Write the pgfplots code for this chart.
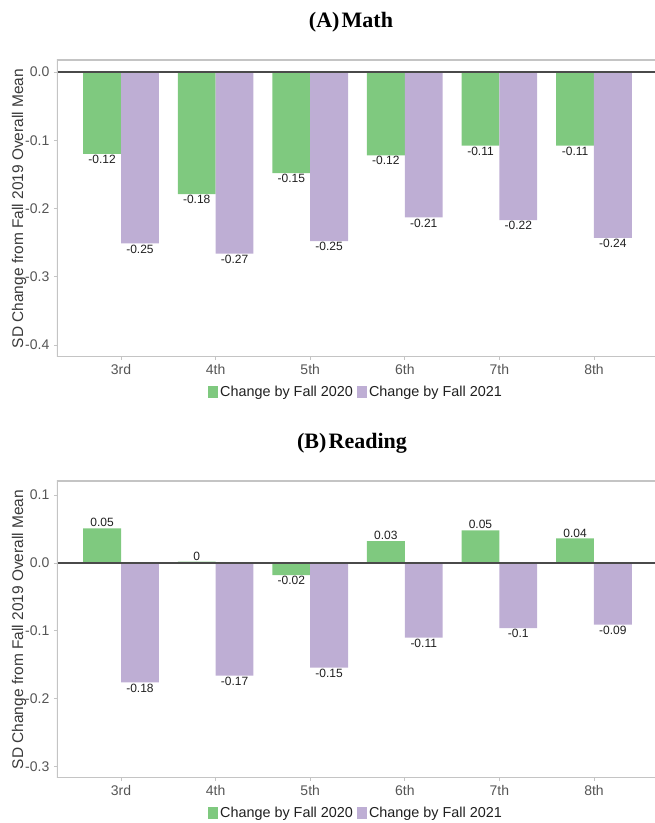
\documentclass[border=0pt]{standalone}
\usepackage{pgfplots}
\pgfplotsset{compat=1.18}
\usepackage{fontspec}
\setmainfont{Liberation Sans}
\newfontfamily\titlefont{Liberation Serif}
\definecolor{cg}{HTML}{7FC97F}
\definecolor{cp}{HTML}{BEAED4}
\definecolor{tickgray}{HTML}{555555}
\definecolor{bordergray}{HTML}{C4C4C4}
\definecolor{zeroline}{HTML}{4A4A4A}
\definecolor{labgray}{HTML}{3A3A3A}

\pgfplotsset{
 panel/.style={
  scale only axis, width=448.5pt, height=222.75pt,
  xmin=0.323, xmax=6.645,
  xtick={1,2,3,4,5,6}, xticklabels={3rd,4th,5th,6th,7th,8th},
  axis line style={draw=none},
  tick align=outside, tick pos=left, major tick length=2.25pt,
  tick style={bordergray, line width=0.6pt},
  ticklabel style={font=\fontsize{10.5}{12}\selectfont, text=tickgray},
  /pgf/number format/assume math mode=true,
  yticklabel style={/pgf/number format/fixed, /pgf/number format/fixed zerofill, /pgf/number format/precision=1},
  ylabel={SD Change from Fall 2019 Overall Mean},
  ylabel style={at={(axis description cs:-0.0635,0.5)}, anchor=center, font=\fontsize{11.6}{13}\selectfont, text=labgray},
  ybar, bar width=0.4,
  point meta=y,
  nodes near coords={\pgfmathprintnumber[fixed,precision=2,assume math mode=true]{\pgfplotspointmeta}},
  every node near coord/.append style={font=\fontsize{9}{10}\selectfont, text=black!88, inner sep=0.8pt},
  legend columns=2,
  legend style={at={(0.5,-0.118)}, anchor=center, draw=none, fill=none,
    font=\fontsize{10.8}{12}\selectfont, text=black!88,
    /tikz/every even column/.append style={column sep=1.5pt},
    inner sep=0pt, nodes={inner sep=1.5pt}},
 },
 gbar/.style={fill=cg, draw=none, bar shift=-0.2,
   legend image code/.code={\fill[cg] (0pt,-4.5pt) rectangle (7.5pt,4.5pt);}},
 pbar/.style={fill=cp, draw=none, bar shift=0.2,
   legend image code/.code={\fill[cp] (0pt,-4.5pt) rectangle (7.5pt,4.5pt);}},
}

\begin{document}
\begin{tikzpicture}
\useasboundingbox (0,0) rectangle (491.25pt,617.25pt);

% Panel A
\node[font=\titlefont\bfseries\fontsize{16.5}{18}\selectfont] at (263.25pt,600.75pt) {(A)\hspace{0.1em}Math};
\begin{axis}[panel, at={(42.75pt,349.5pt)}, anchor=south west,
  ymin=-0.4176, ymax=0.0176, ytick={-0.4,-0.3,-0.2,-0.1,0}]
\addplot[gbar] coordinates {(1,-0.120) (2,-0.179) (3,-0.148) (4,-0.122) (5,-0.108) (6,-0.108)};
\addplot[pbar] coordinates {(1,-0.251) (2,-0.266) (3,-0.248) (4,-0.213) (5,-0.217) (6,-0.243)};
\legend{Change by Fall 2020, Change by Fall 2021}
\draw[zeroline, line width=1.2pt] ({rel axis cs:0,0}|-{axis cs:1,0}) -- ({rel axis cs:1,0}|-{axis cs:1,0});
\draw[bordergray, line width=0.8pt] (rel axis cs:1,1) -- (rel axis cs:0,1) -- (rel axis cs:0,0) -- (rel axis cs:1,0);
\end{axis}

% Panel B
\node[font=\titlefont\bfseries\fontsize{16.5}{18}\selectfont] at (264pt,285pt) {(B)\hspace{0.1em}Reading};
\begin{axis}[panel, at={(42.75pt,33.75pt)}, anchor=south west,
  ymin=-0.3166, ymax=0.1206, ytick={-0.3,-0.2,-0.1,0,0.1}]
\addplot[gbar] coordinates {(1,0.051) (2,0.002) (3,-0.018) (4,0.032) (5,0.048) (6,0.036)};
\addplot[pbar] coordinates {(1,-0.176) (2,-0.166) (3,-0.154) (4,-0.110) (5,-0.096) (6,-0.091)};
\legend{Change by Fall 2020, Change by Fall 2021}
\draw[zeroline, line width=1.2pt] ({rel axis cs:0,0}|-{axis cs:1,0}) -- ({rel axis cs:1,0}|-{axis cs:1,0});
\draw[bordergray, line width=0.8pt] (rel axis cs:1,1) -- (rel axis cs:0,1) -- (rel axis cs:0,0) -- (rel axis cs:1,0);
\end{axis}
\end{tikzpicture}
\end{document}
